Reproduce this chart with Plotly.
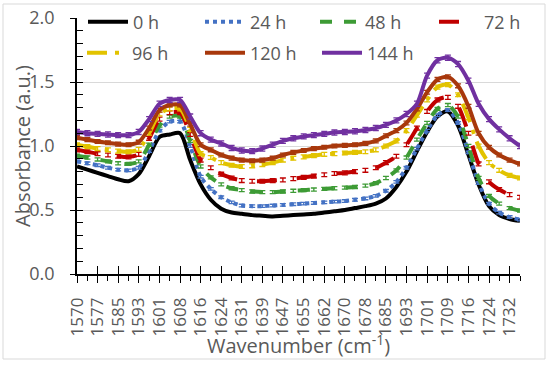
import plotly.graph_objects as go

WAVENUMBER = [1570.0, 1573.9, 1577.7, 1581.6, 1585.4, 1589.3, 1593.1, 1597.0, 1600.9, 1604.7,
              1608.6, 1612.4, 1616.3, 1620.1, 1624.0, 1627.9, 1631.7, 1635.6, 1639.4, 1643.3,
              1647.1, 1651.0, 1654.9, 1658.7, 1662.6, 1666.4, 1670.3, 1674.1, 1678.0, 1681.9,
              1685.7, 1689.6, 1693.4, 1697.3, 1701.1, 1705.0, 1708.9, 1712.7, 1716.6, 1720.4,
              1724.3, 1728.1, 1732.0, 1735.9]

TICK_LABELS = ["1570", "1577", "1585", "1593", "1601", "1608", "1616", "1624", "1631", "1639",
               "1647", "1655", "1662", "1670", "1678", "1685", "1693", "1701", "1709", "1716",
               "1724", "1732"]

H0 = [0.84, 0.815, 0.79, 0.765, 0.74, 0.725, 0.78, 0.92, 1.07, 1.09,
      1.10, 0.89, 0.70, 0.58, 0.51, 0.48, 0.47, 0.46, 0.455, 0.45,
      0.455, 0.46, 0.465, 0.47, 0.48, 0.49, 0.50, 0.515, 0.53, 0.55,
      0.59, 0.68, 0.80, 0.96, 1.11, 1.23, 1.27, 1.16, 0.93, 0.70,
      0.53, 0.46, 0.43, 0.415]
H24 = [0.88, 0.865, 0.85, 0.83, 0.815, 0.81, 0.83, 0.96, 1.12, 1.19,
       1.19, 1.00, 0.76, 0.665, 0.60, 0.56, 0.535, 0.53, 0.53, 0.535,
       0.54, 0.545, 0.55, 0.555, 0.56, 0.565, 0.57, 0.58, 0.59, 0.61,
       0.65, 0.72, 0.83, 0.98, 1.12, 1.24, 1.28, 1.18, 0.95, 0.71,
       0.55, 0.48, 0.445, 0.425]
H48 = [0.925, 0.91, 0.895, 0.88, 0.865, 0.86, 0.88, 1.01, 1.16, 1.23,
       1.23, 1.04, 0.84, 0.755, 0.70, 0.67, 0.655, 0.645, 0.64, 0.64,
       0.645, 0.65, 0.655, 0.66, 0.665, 0.67, 0.675, 0.68, 0.69, 0.71,
       0.75, 0.81, 0.91, 1.05, 1.18, 1.29, 1.32, 1.23, 1.00, 0.75,
       0.61, 0.55, 0.515, 0.495]
H72 = [0.97, 0.955, 0.94, 0.93, 0.92, 0.915, 0.935, 1.06, 1.21, 1.26,
       1.26, 1.09, 0.89, 0.83, 0.78, 0.75, 0.73, 0.725, 0.725, 0.73,
       0.735, 0.745, 0.755, 0.765, 0.775, 0.785, 0.79, 0.80, 0.81, 0.83,
       0.87, 0.92, 1.01, 1.14, 1.27, 1.36, 1.38, 1.31, 1.10, 0.86,
       0.72, 0.66, 0.62, 0.60]
H96 = [1.01, 0.995, 0.98, 0.97, 0.96, 0.955, 0.975, 1.10, 1.25, 1.29,
       1.29, 1.13, 0.94, 0.91, 0.87, 0.85, 0.84, 0.845, 0.855, 0.87,
       0.89, 0.905, 0.915, 0.925, 0.935, 0.94, 0.945, 0.95, 0.955, 0.97,
       1.00, 1.04, 1.12, 1.24, 1.36, 1.46, 1.48, 1.40, 1.22, 1.00,
       0.87, 0.81, 0.77, 0.75]
H120 = [1.065, 1.05, 1.035, 1.025, 1.015, 1.01, 1.03, 1.14, 1.28, 1.32,
        1.32, 1.17, 1.01, 0.97, 0.93, 0.905, 0.89, 0.885, 0.89, 0.905,
        0.93, 0.95, 0.965, 0.98, 0.99, 1.00, 1.005, 1.01, 1.02, 1.04,
        1.08, 1.12, 1.18, 1.29, 1.42, 1.52, 1.54, 1.47, 1.31, 1.10,
        0.99, 0.93, 0.89, 0.86]
H144 = [1.11, 1.10, 1.095, 1.09, 1.085, 1.085, 1.11, 1.21, 1.33, 1.36,
        1.36, 1.23, 1.10, 1.05, 1.02, 0.985, 0.965, 0.96, 0.98, 1.01,
        1.04, 1.06, 1.075, 1.085, 1.095, 1.105, 1.11, 1.115, 1.125, 1.14,
        1.165, 1.20, 1.25, 1.33, 1.55, 1.67, 1.69, 1.64, 1.51, 1.33,
        1.21, 1.13, 1.06, 1.00]

SERIES_NAMES = ["0 h", "24 h", "48 h", "72 h", "96 h", "120 h", "144 h"]
SERIES_VALUES = [H0, H24, H48, H72, H96, H120, H144]
ERRORS = [0.0, 0.01, 0.012, 0.015, 0.015, 0.015, 0.02]

COLORS = ["#000000", "#4472C4", "#3D9B35", "#C00000", "#E2C300", "#A8380C", "#7030A0"]
DASHES = ["solid", "dot", "dash", "longdash", "longdashdot", "solid", "solid"]

# legend placement (pixel positions of each legend entry: left of sample, row centre)
LEG_X = [89, 206, 321, 440, 88, 206, 323]
LEG_Y = [22, 22, 22, 22, 53, 53, 53]

GREY = "#595959"
FONT = "Open Sans"

PL, PR, PT, PB = 77, 520, 18, 274
W = PR - PL
H = PB - PT


def px_x(p):
    return (p - PL) / W


def px_y(p):
    return (PB - p) / H


fig = go.Figure()
legend_layout = {}
for i, (name, vals, err, col, dash) in enumerate(zip(SERIES_NAMES, SERIES_VALUES, ERRORS, COLORS, DASHES)):
    lname = "legend" if i == 0 else f"legend{i + 1}"
    fig.add_trace(go.Scatter(
        x=WAVENUMBER, y=vals, name=name, mode="lines",
        line=dict(color=col, width=4, dash=dash, shape="spline", smoothing=0.8),
        error_y=dict(type="constant", value=err, visible=err > 0, color=col, thickness=1.3, width=3),
        legend=lname,
    ))
    legend_layout[lname] = dict(
        orientation="h", x=px_x(LEG_X[i] - 6), y=px_y(LEG_Y[i]), xanchor="left", yanchor="middle",
        bgcolor="rgba(0,0,0,0)", borderwidth=0,
        font=dict(size=18, color=GREY, family=FONT), itemwidth=40,
    )

# helper trace for overlay axes (inside tick marks)
fig.add_trace(go.Scatter(x=[None], y=[None], xaxis="x2", yaxis="y2", showlegend=False, hoverinfo="skip"))

major_x = WAVENUMBER[0::2][:len(TICK_LABELS)]
minor_x = WAVENUMBER[1::2]
xr = [WAVENUMBER[0], WAVENUMBER[-1]]

fig.update_layout(
    width=550, height=366,
    margin=dict(l=PL, r=550 - PR, t=PT, b=366 - PB, autoexpand=False),
    paper_bgcolor="white", plot_bgcolor="white",
    font=dict(family=FONT, color=GREY),
    xaxis=dict(range=xr, tickmode="array", tickvals=major_x, ticktext=TICK_LABELS, automargin=False,
               tickangle=-90, ticks="outside", ticklen=7, tickwidth=1.3, tickcolor="black",
               showline=True, linecolor="black", linewidth=1.5, showgrid=False, zeroline=False,
               tickfont=dict(size=17, color=GREY, family=FONT), ticklabelstandoff=8,
               minor=dict(tickmode="array", tickvals=minor_x, ticks="outside", ticklen=5,
                          tickwidth=1.3, tickcolor="black", showgrid=False)),
    yaxis=dict(range=[0, 2], tickmode="array", tickvals=[0, 0.5, 1.0, 1.5, 2.0], automargin=False,
               tickformat=".1f", ticks="outside", ticklen=5, tickwidth=1.3, tickcolor="black",
               showline=True, linecolor="black", linewidth=1.5, showgrid=True,
               gridcolor="#D9D9D9", gridwidth=1, zeroline=False,
               tickfont=dict(size=18, color=GREY, family=FONT), ticklabelstandoff=12),
    xaxis2=dict(overlaying="x", anchor="y2", range=xr, tickmode="array", tickvals=major_x, automargin=False,
                ticks="inside", ticklen=8, tickwidth=1.3, tickcolor="black",
                showticklabels=False, showline=False, showgrid=False, zeroline=False, side="bottom"),
    yaxis2=dict(overlaying="y", anchor="x2", range=[0, 2], tickmode="linear", tick0=0, dtick=0.1,
                automargin=False, ticks="inside", ticklen=6, tickwidth=1.3, tickcolor="black",
                showticklabels=False, showline=False, showgrid=False, zeroline=False, side="left"),
    showlegend=True,
    **legend_layout,
)

fig.add_annotation(text="Absorbance (a.u.)", xref="paper", yref="paper", x=px_x(22), y=0.5,
                   textangle=-90, showarrow=False, font=dict(size=20, color=GREY, family=FONT),
                   xanchor="center", yanchor="middle")
fig.add_annotation(text="Wavenumber (cm<sup>-1</sup>)", xref="paper", yref="paper", x=0.5, y=px_y(344),
                   showarrow=False, font=dict(size=20, color=GREY, family=FONT),
                   xanchor="center", yanchor="middle")
fig.add_shape(type="rect", xref="paper", yref="paper", x0=px_x(3), x1=px_x(545), y0=px_y(359), y1=px_y(4),
              line=dict(color="#D9D9D9", width=1), fillcolor="rgba(0,0,0,0)", layer="below")

fig.write_html("out.html", config={"displayModeBar": False},
               post_script="document.body.style.margin='0';document.body.style.overflow='hidden';")
